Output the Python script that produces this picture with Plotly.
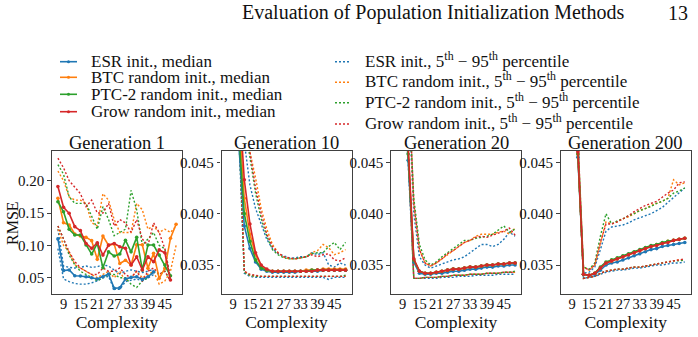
import plotly.graph_objects as go

# ---------------- data ----------------
complexity = list(range(7, 50, 2))          # 7, 9, ..., 49  (22 values)
x_tick_vals = [9, 15, 21, 27, 33, 39, 45]
generations = ["Generation 1", "Generation 10", "Generation 20", "Generation 200"]
methods = ["ESR init.", "BTC random init.", "PTC-2 random init.", "Grow random init."]
colors = ["#1f77b4", "#ff7f0e", "#2ca02c", "#d62728"]
N = None

# ----- Generation 1 -----
g1_esr_med = [0.110, 0.061, 0.062, 0.053, 0.0526, 0.0515, 0.050, 0.048, 0.0515, 0.0557, 0.0335, 0.0345, 0.048, 0.0505, 0.0515, 0.0474, 0.0515, 0.059, N, N, N, N]
g1_btc_med = [0.1728, 0.135, 0.1315, 0.1176, 0.1145, 0.1124, 0.1073, 0.0784, 0.1145, 0.100, 0.102, 0.072, 0.077, 0.0696, 0.101, 0.101, 0.0645, 0.0877, 0.049, 0.0645, 0.111, 0.1326]
g1_ptc_med = [0.1676, 0.152, 0.125, 0.116, 0.116, 0.1006, 0.0866, 0.103, 0.0655, 0.090, 0.0835, 0.0866, 0.108, 0.090, 0.1124, 0.062, 0.1006, 0.1006, 0.085, 0.0696, 0.053, N]
g1_grow_med = [0.191, 0.159, 0.1496, 0.129, 0.1228, 0.103, 0.0954, 0.104, 0.085, 0.1006, 0.103, 0.098, 0.0954, 0.0696, 0.0825, 0.062, 0.0825, 0.0748, 0.093, 0.0887, 0.0464, N]

g1_esr_hi = [0.125, 0.068, 0.066, 0.065, 0.066, 0.068, 0.066, 0.067, 0.070, 0.068, 0.062, 0.056, 0.060, 0.062, 0.060, 0.058, 0.060, 0.063, N, N, N, N]
g1_esr_lo = [0.095, 0.048, 0.044, 0.041, 0.040, 0.040, 0.042, 0.045, 0.050, 0.052, 0.032, 0.032, 0.044, 0.046, 0.048, 0.045, 0.050, 0.055, N, N, N, N]
g1_btc_hi = [0.215, 0.200, 0.175, 0.170, 0.170, 0.165, 0.135, 0.130, 0.180, 0.170, 0.140, 0.120, 0.120, 0.120, 0.165, 0.155, 0.125, 0.130, 0.120, 0.125, 0.120, 0.130]
g1_btc_lo = [0.125, 0.100, 0.090, 0.070, 0.065, 0.060, 0.055, 0.050, 0.055, 0.060, 0.050, 0.060, 0.045, 0.050, 0.060, 0.050, 0.055, 0.060, 0.040, 0.045, 0.060, 0.100]
g1_ptc_hi = [0.225, 0.210, 0.175, 0.165, 0.165, 0.165, 0.145, 0.125, 0.160, 0.140, 0.115, 0.120, 0.125, 0.185, 0.155, 0.100, 0.110, 0.120, 0.100, 0.095, 0.050, N]
g1_ptc_lo = [0.130, 0.110, 0.085, 0.070, 0.060, 0.055, 0.050, 0.045, 0.050, 0.055, 0.055, 0.050, 0.050, 0.040, 0.035, 0.045, 0.050, 0.060, 0.055, 0.060, 0.045, N]
g1_grow_hi = [0.235, 0.220, 0.200, 0.190, 0.180, 0.160, 0.170, 0.150, 0.150, 0.165, 0.130, 0.140, 0.135, 0.120, 0.140, 0.110, 0.100, 0.135, 0.120, 0.095, 0.045, N]
g1_grow_lo = [0.130, 0.110, 0.090, 0.075, 0.065, 0.060, 0.055, 0.055, 0.065, 0.060, 0.060, 0.065, 0.055, 0.050, 0.060, 0.045, 0.060, 0.065, 0.055, 0.060, 0.045, N]

# ----- Generation 10 -----
g10_esr_med = [0.075, 0.058, 0.047, 0.0388, 0.0366, 0.0353, 0.0346, 0.0344, 0.0343, 0.0343, 0.0343, 0.0343, 0.0343, 0.0344, 0.0344, 0.0344, 0.0344, 0.0345, 0.0345, 0.0345, 0.0345, 0.0345]
g10_btc_med = [0.080, 0.062, 0.050, 0.0415, 0.0380, 0.0360, 0.0349, 0.0345, 0.0344, 0.0344, 0.0344, 0.0344, 0.0344, 0.0344, 0.0345, 0.0345, 0.0345, 0.0346, 0.0346, 0.0346, 0.0346, 0.0346]
g10_ptc_med = [0.078, 0.061, 0.048, 0.0400, 0.0373, 0.0355, 0.0347, 0.0345, 0.0344, 0.0344, 0.0344, 0.0344, 0.0344, 0.0344, 0.0344, 0.0345, 0.0345, 0.0345, 0.0345, 0.0345, 0.0345, 0.0345]
g10_grow_med = [0.085, 0.066, 0.052, 0.0433, 0.0390, 0.0362, 0.0350, 0.0346, 0.0344, 0.0344, 0.0344, 0.0344, 0.0344, 0.0344, 0.0344, 0.0344, 0.0345, 0.0345, 0.0345, 0.0345, 0.0345, 0.0345]

g10_esr_hi = [0.090, 0.070, 0.055, 0.047, 0.0428, 0.0405, 0.0390, 0.0375, 0.0366, 0.0361, 0.0359, 0.0357, 0.0357, 0.0358, 0.0358, 0.0362, 0.0360, 0.0362, 0.0350, 0.0348, 0.0352, 0.0350]
g10_btc_hi = [0.095, 0.075, 0.060, 0.050, 0.0460, 0.0435, 0.0405, 0.0385, 0.0370, 0.0362, 0.0358, 0.0356, 0.0356, 0.0357, 0.0358, 0.0362, 0.0364, 0.0370, 0.0367, 0.0360, 0.0362, 0.0365]
g10_ptc_hi = [0.095, 0.075, 0.060, 0.049, 0.0455, 0.0420, 0.0395, 0.0378, 0.0365, 0.0360, 0.0357, 0.0356, 0.0356, 0.0357, 0.0358, 0.0361, 0.0362, 0.0362, 0.0368, 0.0372, 0.0365, 0.0372]
g10_grow_hi = [0.100, 0.080, 0.062, 0.050, 0.0460, 0.0425, 0.0400, 0.0380, 0.0368, 0.0362, 0.0358, 0.0357, 0.0356, 0.0357, 0.0358, 0.0360, 0.0358, 0.0360, 0.0361, 0.0355, 0.0354, 0.0357]
g10_esr_lo = [0.070, 0.055, 0.048, 0.0342, 0.0339, 0.0338, 0.0338, 0.0338, 0.0338, 0.0338, 0.0338, 0.0338, 0.0338, 0.0338, 0.0338, 0.0338, 0.0338, 0.0338, 0.0336, 0.0338, 0.0338, 0.0338]
g10_btc_lo = [0.072, 0.056, 0.049, 0.0344, 0.0340, 0.0339, 0.0339, 0.0339, 0.0339, 0.0339, 0.0339, 0.0339, 0.0339, 0.0339, 0.0339, 0.0339, 0.0339, 0.0339, 0.0339, 0.0339, 0.0339, 0.0339]
g10_ptc_lo = [0.072, 0.056, 0.049, 0.0343, 0.0340, 0.0339, 0.0339, 0.0339, 0.0339, 0.0339, 0.0339, 0.0339, 0.0339, 0.0339, 0.0339, 0.0339, 0.0339, 0.0339, 0.0339, 0.0339, 0.0339, 0.0340]
g10_grow_lo = [0.074, 0.057, 0.050, 0.0344, 0.0341, 0.0340, 0.0339, 0.0339, 0.0339, 0.0339, 0.0339, 0.0339, 0.0339, 0.0339, 0.0339, 0.0339, 0.0339, 0.0339, 0.0339, 0.0339, 0.0339, 0.0339]

# ----- Generation 20 -----
g20_esr_med = [0.070, 0.055, 0.0452, 0.0353, 0.0342, 0.0341, 0.0341, 0.0342, 0.0342, 0.0343, 0.0344, 0.0344, 0.0345, 0.0346, 0.0346, 0.0347, 0.0348, 0.0348, 0.0349, 0.0349, 0.0350, 0.0350]
g20_btc_med = [0.072, 0.057, 0.0462, 0.0355, 0.0344, 0.0342, 0.0342, 0.0343, 0.0344, 0.0345, 0.0346, 0.0346, 0.0347, 0.0348, 0.0348, 0.0349, 0.0350, 0.0350, 0.0351, 0.0351, 0.0352, 0.0352]
g20_ptc_med = [0.071, 0.056, 0.0458, 0.0355, 0.0344, 0.0342, 0.0342, 0.0343, 0.0344, 0.0345, 0.0346, 0.0346, 0.0347, 0.0348, 0.0348, 0.0349, 0.0350, 0.0350, 0.0351, 0.0351, 0.0352, 0.0352]
g20_grow_med = [0.073, 0.058, 0.0465, 0.0356, 0.0344, 0.0342, 0.0342, 0.0343, 0.0344, 0.0345, 0.0346, 0.0346, 0.0347, 0.0348, 0.0348, 0.0349, 0.0350, 0.0350, 0.0351, 0.0351, 0.0352, 0.0352]

g20_esr_hi = [0.080, 0.065, 0.052, 0.0400, 0.0358, 0.0350, 0.0347, 0.0349, 0.0351, 0.0353, 0.0355, 0.0356, 0.0358, 0.0362, 0.0366, 0.0370, 0.0370, 0.0368, 0.0370, 0.0375, 0.0382, 0.0378]
g20_btc_hi = [0.082, 0.066, 0.053, 0.0410, 0.0365, 0.0352, 0.0349, 0.0352, 0.0356, 0.0360, 0.0364, 0.0368, 0.0372, 0.0374, 0.0378, 0.0380, 0.0380, 0.0380, 0.0382, 0.0383, 0.0380, 0.0386]
g20_ptc_hi = [0.082, 0.066, 0.053, 0.0415, 0.0370, 0.0355, 0.0350, 0.0353, 0.0358, 0.0362, 0.0366, 0.0370, 0.0374, 0.0374, 0.0376, 0.0377, 0.0378, 0.0380, 0.0384, 0.0388, 0.0382, 0.0385]
g20_grow_hi = [0.083, 0.067, 0.054, 0.0410, 0.0365, 0.0352, 0.0349, 0.0352, 0.0356, 0.0361, 0.0364, 0.0368, 0.0372, 0.0374, 0.0377, 0.0378, 0.0377, 0.0379, 0.0381, 0.0383, 0.0386, 0.0379]
g20_esr_lo = [0.065, 0.052, 0.045, 0.0337, 0.0337, 0.0337, 0.0337, 0.0337, 0.0338, 0.0338, 0.0338, 0.0339, 0.0339, 0.0339, 0.0340, 0.0340, 0.0340, 0.0340, 0.0341, 0.0341, 0.0341, 0.0341]
g20_btc_lo = [0.066, 0.053, 0.046, 0.0337, 0.0337, 0.0338, 0.0338, 0.0338, 0.0339, 0.0339, 0.0340, 0.0340, 0.0340, 0.0341, 0.0341, 0.0341, 0.0342, 0.0342, 0.0342, 0.0343, 0.0343, 0.0343]
g20_ptc_lo = [0.066, 0.053, 0.046, 0.0337, 0.0337, 0.0338, 0.0338, 0.0338, 0.0339, 0.0339, 0.0340, 0.0340, 0.0340, 0.0341, 0.0341, 0.0341, 0.0342, 0.0342, 0.0342, 0.0343, 0.0343, 0.0344]
g20_grow_lo = [0.067, 0.054, 0.046, 0.0337, 0.0337, 0.0338, 0.0338, 0.0338, 0.0339, 0.0339, 0.0340, 0.0340, 0.0340, 0.0341, 0.0341, 0.0341, 0.0342, 0.0342, 0.0342, 0.0343, 0.0343, 0.0343]

# ----- Generation 200 -----
g200_esr_med = [0.070, 0.055, 0.0455, 0.0341, 0.0340, 0.0341, 0.0345, 0.0350, 0.0352, 0.0353, 0.0355, 0.0357, 0.0359, 0.0361, 0.0363, 0.0365, 0.0366, 0.0368, 0.0369, 0.0370, 0.0371, 0.0372]
g200_btc_med = [0.071, 0.056, 0.0458, 0.0341, 0.0340, 0.0342, 0.0347, 0.0352, 0.0354, 0.0356, 0.0358, 0.0360, 0.0362, 0.0364, 0.0366, 0.0368, 0.0370, 0.0371, 0.0373, 0.0374, 0.0375, 0.0376]
g200_ptc_med = [0.071, 0.056, 0.0458, 0.0341, 0.0340, 0.0342, 0.0348, 0.0353, 0.0355, 0.0357, 0.0359, 0.0361, 0.0363, 0.0365, 0.0367, 0.0369, 0.0370, 0.0372, 0.0373, 0.0374, 0.0375, 0.0376]
g200_grow_med = [0.072, 0.057, 0.0460, 0.0341, 0.0340, 0.0342, 0.0347, 0.0352, 0.0354, 0.0356, 0.0358, 0.0360, 0.0362, 0.0364, 0.0366, 0.0368, 0.0369, 0.0371, 0.0372, 0.0374, 0.0375, 0.0376]

g200_esr_hi = [0.080, 0.062, 0.0470, 0.0342, 0.0343, 0.0348, 0.0365, 0.0383, 0.0387, 0.0388, 0.0389, 0.0391, 0.0394, 0.0396, 0.0398, 0.0400, 0.0403, 0.0406, 0.0411, 0.0416, 0.0420, 0.0425]
g200_btc_hi = [0.081, 0.063, 0.0472, 0.0348, 0.0345, 0.0350, 0.0372, 0.0392, 0.0390, 0.0392, 0.0395, 0.0397, 0.0400, 0.0403, 0.0405, 0.0408, 0.0410, 0.0412, 0.0415, 0.0433, 0.0428, 0.0430]
g200_ptc_hi = [0.081, 0.063, 0.0472, 0.0348, 0.0346, 0.0352, 0.0378, 0.0400, 0.0390, 0.0393, 0.0395, 0.0398, 0.0400, 0.0403, 0.0405, 0.0407, 0.0410, 0.0412, 0.0415, 0.0420, 0.0422, 0.0425]
g200_grow_hi = [0.082, 0.064, 0.0475, 0.0348, 0.0345, 0.0350, 0.0372, 0.0390, 0.0390, 0.0392, 0.0395, 0.0398, 0.0402, 0.0405, 0.0408, 0.0410, 0.0412, 0.0416, 0.0420, 0.0423, 0.0430, 0.0431]
g200_esr_lo = [0.065, 0.052, 0.0460, 0.0337, 0.0338, 0.0339, 0.0341, 0.0343, 0.0344, 0.0345, 0.0345, 0.0346, 0.0347, 0.0347, 0.0348, 0.0349, 0.0350, 0.0350, 0.0351, 0.0352, 0.0352, 0.0353]
g200_btc_lo = [0.066, 0.053, 0.0460, 0.0337, 0.0338, 0.0339, 0.0342, 0.0344, 0.0345, 0.0346, 0.0346, 0.0347, 0.0348, 0.0348, 0.0349, 0.0350, 0.0351, 0.0352, 0.0353, 0.0354, 0.0355, 0.0355]
g200_ptc_lo = [0.066, 0.053, 0.0460, 0.0337, 0.0338, 0.0339, 0.0342, 0.0344, 0.0345, 0.0346, 0.0346, 0.0347, 0.0348, 0.0348, 0.0349, 0.0350, 0.0351, 0.0352, 0.0353, 0.0354, 0.0354, 0.0355]
g200_grow_lo = [0.066, 0.053, 0.0460, 0.0337, 0.0338, 0.0339, 0.0342, 0.0344, 0.0345, 0.0346, 0.0346, 0.0347, 0.0348, 0.0348, 0.0349, 0.0350, 0.0351, 0.0352, 0.0353, 0.0354, 0.0355, 0.0356]

panels = [
    ([g1_esr_med, g1_btc_med, g1_ptc_med, g1_grow_med],
     [g1_esr_hi, g1_btc_hi, g1_ptc_hi, g1_grow_hi],
     [g1_esr_lo, g1_btc_lo, g1_ptc_lo, g1_grow_lo]),
    ([g10_esr_med, g10_btc_med, g10_ptc_med, g10_grow_med],
     [g10_esr_hi, g10_btc_hi, g10_ptc_hi, g10_grow_hi],
     [g10_esr_lo, g10_btc_lo, g10_ptc_lo, g10_grow_lo]),
    ([g20_esr_med, g20_btc_med, g20_ptc_med, g20_grow_med],
     [g20_esr_hi, g20_btc_hi, g20_ptc_hi, g20_grow_hi],
     [g20_esr_lo, g20_btc_lo, g20_ptc_lo, g20_grow_lo]),
    ([g200_esr_med, g200_btc_med, g200_ptc_med, g200_grow_med],
     [g200_esr_hi, g200_btc_hi, g200_ptc_hi, g200_grow_hi],
     [g200_esr_lo, g200_btc_lo, g200_ptc_lo, g200_grow_lo]),
]

y_ranges = [[0.0248, 0.246], [0.03218, 0.0461], [0.03218, 0.0461], [0.03218, 0.0461]]
y_ticks = [[0.05, 0.10, 0.15, 0.20], [0.035, 0.040, 0.045], [0.035, 0.040, 0.045], [0.035, 0.040, 0.045]]
y_ticktext = [["0.05", "0.10", "0.15", "0.20"], ["0.035", "0.040", "0.045"], ["0.035", "0.040", "0.045"], ["0.035", "0.040", "0.045"]]

# ---------------- layout geometry (pixels) ----------------
W, H = 698, 337
FONT = "Liberation Serif, 'DejaVu Serif', serif"
TXT = "#111111"
panel_left = [52, 221.5, 391, 560.7]
panel_w = 130
plot_top, plot_bot = 151, 294
AX = "#404040"


def fx(p):
    return p / W


def fy(p):
    return 1 - p / H


fig = go.Figure()

for i, (meds, his, los) in enumerate(panels):
    xa = "x" if i == 0 else f"x{i+1}"
    ya = "y" if i == 0 else f"y{i+1}"
    for k in range(4):
        for arr in (his[k], los[k]):
            fig.add_trace(go.Scatter(
                x=complexity, y=arr, mode="lines", xaxis=xa, yaxis=ya,
                line=dict(color=colors[k], width=1.4, dash="2px,2px"),
                showlegend=False, hoverinfo="skip", connectgaps=False))
    for k in range(4):
        fig.add_trace(go.Scatter(
            x=complexity, y=meds[k], mode="lines+markers", xaxis=xa, yaxis=ya,
            line=dict(color=colors[k], width=1.6),
            marker=dict(color=colors[k], size=3.6),
            showlegend=False, hoverinfo="skip"))

layout = dict(
    width=W, height=H, autosize=False,
    margin=dict(l=0, r=0, t=0, b=0),
    paper_bgcolor="white", plot_bgcolor="white",
    font=dict(family=FONT, color=TXT, size=15),
    showlegend=False,
)

for i in range(4):
    xkey = "xaxis" if i == 0 else f"xaxis{i+1}"
    ykey = "yaxis" if i == 0 else f"yaxis{i+1}"
    yid = "y" if i == 0 else f"y{i+1}"
    xid = "x" if i == 0 else f"x{i+1}"
    layout[xkey] = dict(
        domain=[fx(panel_left[i]), fx(panel_left[i] + panel_w)],
        anchor=yid, range=[4.9, 51.1],
        tickvals=x_tick_vals, ticktext=[str(v) for v in x_tick_vals],
        tickangle=0, ticks="", ticklabelstandoff=-4,
        showline=True, mirror=True, linecolor=AX, linewidth=1.3,
        showgrid=False, zeroline=False,
        tickfont=dict(family=FONT, size=14.5, color=TXT),
        title=dict(text="Complexity", font=dict(family=FONT, size=17.5, color=TXT), standoff=0),
    )
    layout[ykey] = dict(
        domain=[fy(plot_bot), fy(plot_top)],
        anchor=xid, range=y_ranges[i],
        tickvals=y_ticks[i], ticktext=y_ticktext[i],
        ticks="outside", ticklen=3.5, tickwidth=1.2, tickcolor=AX,
        showline=True, mirror=True, linecolor=AX, linewidth=1.3,
        showgrid=False, zeroline=False,
        tickfont=dict(family=FONT, size=15, color=TXT),
    )

fig.update_layout(**layout)

annotations = []
# panel titles
for i, g in enumerate(generations):
    annotations.append(dict(
        text=g, x=fx(panel_left[i] + panel_w / 2), y=fy(142.5), xref="paper", yref="paper",
        xanchor="center", yanchor="middle", showarrow=False,
        font=dict(family=FONT, size=18.5, color=TXT)))
# y-axis title
annotations.append(dict(
    text="RMSE", x=fx(12), y=fy(223), xref="paper", yref="paper", textangle=-90,
    xanchor="center", yanchor="middle", showarrow=False,
    font=dict(family=FONT, size=16, color=TXT)))
# page header
annotations.append(dict(
    text="Evaluation of Population Initialization Methods", x=fx(240), y=fy(12.5),
    xref="paper", yref="paper", xanchor="left", yanchor="middle", showarrow=False,
    font=dict(family=FONT, size=20, color=TXT)))
annotations.append(dict(
    text="13", x=fx(690), y=fy(12.5), xref="paper", yref="paper",
    xanchor="right", yanchor="middle", showarrow=False,
    font=dict(family=FONT, size=20, color=TXT)))

# legend (two columns)
shapes = []
left_rows = [61.7, 77.3, 94.3, 111.7]
right_rows = [61.7, 82.3, 102.7, 124.0]
for k in range(4):
    y = left_rows[k]
    shapes.append(dict(type="line", xref="paper", yref="paper",
                       x0=fx(60), x1=fx(77), y0=fy(y), y1=fy(y),
                       line=dict(color=colors[k], width=1.6)))
    shapes.append(dict(type="circle", xref="paper", yref="paper",
                       x0=fx(67), x1=fx(70), y0=fy(y + 1.5), y1=fy(y - 1.5),
                       fillcolor=colors[k], line=dict(width=0)))
    annotations.append(dict(
        text=f"{methods[k]}, median", x=fx(89), y=fy(y), xref="paper", yref="paper",
        xanchor="left", yanchor="middle", showarrow=False,
        font=dict(family=FONT, size=17, color=TXT)))
    y2 = right_rows[k]
    shapes.append(dict(type="line", xref="paper", yref="paper",
                       x0=fx(335), x1=fx(351), y0=fy(y2), y1=fy(y2),
                       line=dict(color=colors[k], width=1.4, dash="2px,2px")))
    annotations.append(dict(
        text=f"{methods[k]}, 5<sup>th</sup> \u2212 95<sup>th</sup> percentile",
        x=fx(362.5), y=fy(y2 - 2), xref="paper", yref="paper",
        xanchor="left", yanchor="middle", showarrow=False,
        font=dict(family=FONT, size=17, color=TXT)))

fig.update_layout(annotations=annotations, shapes=shapes)
fig.write_html("out.html")
